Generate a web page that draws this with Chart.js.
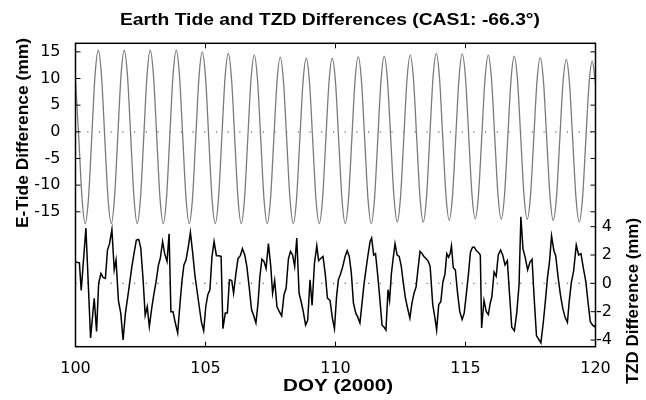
<!DOCTYPE html>
<html>
<head>
<meta charset="utf-8">
<script src="https://cdn.jsdelivr.net/npm/chart.js@4/dist/chart.umd.min.js"></script>
<style>
html,body{margin:0;padding:0;background:#fff;}
#wrap{width:646px;height:400px;}
</style>
</head>
<body>
<div id="wrap"><canvas id="chart" width="646" height="400"></canvas></div>
<script>
// E-tide difference, one value every 3 hours from DOY 100
const tideStart = 100;
const tideStep = 0.125;
const tideVal = [
  9.6,-1.0,-12.4,-17.2,-12.4,-1.0,10.5,15.3,
  10.5,-1.0,-12.4,-17.2,-12.4,-1.0,10.5,15.3,
  10.5,-1.0,-12.4,-17.2,-12.4,-1.0,10.5,15.3,
  10.5,-1.0,-12.4,-17.2,-12.4,-1.0,10.5,15.3,
  10.5,-1.0,-12.4,-17.2,-12.5,-1.1,10.3,15.0,
  10.3,-1.1,-12.5,-17.2,-12.5,-1.3,10.0,14.7,
  10.0,-1.3,-12.5,-17.2,-12.6,-1.4,9.8,14.4,
  9.8,-1.4,-12.6,-17.2,-12.6,-1.6,9.4,14.0,
  9.4,-1.6,-12.6,-17.2,-12.7,-1.7,9.3,13.8,
  9.3,-1.7,-12.7,-17.2,-12.7,-1.7,9.3,13.8,
  9.3,-1.7,-12.7,-17.2,-12.6,-1.6,9.5,14.1,
  9.5,-1.6,-12.6,-17.2,-12.6,-1.5,9.6,14.2,
  9.6,-1.4,-12.3,-16.9,-12.3,-1.3,9.8,14.4,
  9.8,-1.3,-12.3,-16.9,-12.3,-1.1,10.1,14.7,
  10.1,-1.0,-12.0,-16.6,-12.0,-1.0,10.0,14.6,
  10.1,-0.9,-11.8,-16.3,-11.8,-1.0,9.9,14.4,
  9.9,-1.0,-11.9,-16.4,-11.9,-1.1,9.7,14.2,
  9.7,-1.1,-11.9,-16.4,-12.0,-1.3,9.5,13.9,
  9.4,-1.4,-12.1,-16.6,-12.2,-1.5,9.2,13.6,
  9.1,-1.7,-12.4,-16.9,-12.5,-1.8,8.9,13.3,
  9.0
];

// TZD difference
const tzdDoy = [
  100.00,100.15,100.22,100.40,100.58,100.72,100.81,100.89,100.98,
  101.06,101.15,101.23,101.31,101.40,101.49,101.56,101.65,101.74,101.83,101.92,
  102.01,102.08,102.17,102.25,102.34,102.43,102.51,102.60,102.68,102.76,102.84,102.94,
  103.02,103.11,103.19,103.26,103.35,103.43,103.52,103.60,103.67,103.75,103.84,103.93,
  104.02,104.10,104.17,104.25,104.34,104.42,104.51,104.60,104.67,104.76,104.84,104.93,
  105.01,105.09,105.17,105.25,105.33,105.42,105.51,105.60,105.67,105.76,105.84,105.92,
  106.01,106.08,106.17,106.25,106.34,106.42,106.51,106.59,106.68,106.77,106.85,106.94,
  107.02,107.09,107.17,107.25,107.33,107.42,107.51,107.58,107.66,107.75,107.84,107.93,
  108.02,108.10,108.19,108.27,108.35,108.43,108.51,108.60,108.68,108.76,108.85,108.93,
  109.02,109.10,109.19,109.28,109.35,109.43,109.52,109.61,109.69,109.79,109.88,109.96,
  110.04,110.11,110.20,110.28,110.37,110.45,110.53,110.61,110.69,110.78,110.85,110.94,
  111.02,111.10,111.17,111.25,111.33,111.39,111.47,111.54,111.63,111.71,111.79,111.87,111.94,
  112.02,112.08,112.15,112.21,112.29,112.37,112.45,112.53,112.61,112.69,112.76,112.86,112.94,
  113.02,113.10,113.17,113.25,113.33,113.40,113.48,113.57,113.64,113.74,113.83,113.89,113.97,
  114.05,114.13,114.21,114.28,114.35,114.41,114.46,114.53,114.61,114.69,114.78,114.87,114.95,
  115.03,115.11,115.19,115.27,115.34,115.42,115.49,115.57,115.62,115.71,115.80,115.88,115.95,
  116.01,116.10,116.18,116.26,116.35,116.43,116.52,116.61,116.68,116.78,116.88,116.97,
  117.06,117.13,117.21,117.30,117.39,117.48,117.56,117.64,117.73,117.82,117.90,117.99,
  118.07,118.15,118.23,118.31,118.40,118.47,118.56,118.65,118.74,118.83,118.92,118.99,
  119.07,119.16,119.26,119.35,119.44,119.54,119.63,119.71,119.80,119.89,119.96,120.00
];
const tzdVal = [
  1.5,1.45,-0.5,3.9,-3.85,-1.05,-3.4,0,0.7,
  0.42,0.35,2.35,2.8,3.8,0.95,1.65,-1.2,-2.1,-4.0,-2.1,
  -0.95,0,1.2,2.1,3.05,3.1,2.5,0.25,-2.25,-1.65,-3.05,-1.65,
  -0.7,0.25,1.3,1.75,2.95,2.1,1.55,3.5,-2.0,-2.0,-2.8,-3.5,
  -1.4,0.25,1.3,1.65,2.6,3.6,2.1,0.45,-0.45,-1.65,-2.7,-3.35,
  -1.65,-0.8,-0.45,1.9,2.95,1.95,1.95,1.9,-3.2,-2.1,-2.1,0.25,
  0.2,-0.7,0.7,1.75,1.95,2.45,2.0,1.2,-0.25,-1.85,-2.25,-2.8,
  -1.4,0.45,1.7,1.55,1.05,2.8,1.2,-0.7,0.2,-1.65,-2.0,-2.3,
  -0.8,-0.35,1.75,2.25,2.0,1.2,3.2,-0.7,-1.3,-2.0,-2.95,-2.6,
  0.25,-1.55,1.4,2.65,1.6,1.75,1.9,0.6,-1.05,-1.2,-2.45,-3.2,
  -0.95,0.25,0.7,1.2,1.9,2.3,1.9,0.7,-1.4,-2.1,-2.35,-2.8,
  -1.4,0,0.95,2.0,2.95,3.2,2.0,2.1,0.45,-1.2,-2.95,-3.1,-3.3,
  -0.45,-1.2,0.7,1.65,2.8,2.0,1.9,1.2,0,-1.05,-1.65,-2.45,-1.4,
  -0.7,-0.25,0.95,2.25,2.1,1.9,1.75,1.55,1.2,-1.5,-2.5,-3.3,-1.5,
  -1.3,0.1,0.65,2.1,1.85,2.1,2.65,1.1,0.95,-0.6,-2.0,-2.55,-2.1,
  -0.8,0.6,2.2,2.55,2.55,2.3,2.2,2.0,-3.15,-1.2,-2.0,-2.2,-1.4,
  -1.0,0.8,0.5,2.0,2.35,2.0,1.3,1.6,-0.4,-3.1,-3.35,-2.1,
  -0.1,4.7,2.45,1.8,0.95,1.5,1.7,-1.0,-3.7,-3.95,-4.2,-2.8,
  -1.3,0.35,1.5,3.35,2.3,1.95,0.45,-0.8,-1.75,-2.4,-2.75,-1.25,
  0.05,0.9,2.7,2.0,2.1,1.0,0.1,-1.3,-2.7,-2.95,-3.05,-2.95
];

// ticks
const doyTicks = [100,105,110,115,120];
const tideTicks = [-15,-10,-5,0,5,10,15];
const tzdTicks = [-4,-2,0,2,4];

const FONT = '"Liberation Sans", Arial, Helvetica, sans-serif';
const TICK_FONT = '"DejaVu Sans", "Liberation Sans", sans-serif';
const tickLen = 5;

const tidePoints = tideVal.map((v,i)=>({x:tideStart+i*tideStep, y:v}));
const tzdPoints = tzdVal.map((v,i)=>({x:tzdDoy[i], y:v}));

// bold label stretched a bit wider, like the original export
function label(ctx, text, cx, cy, len, vertical){
    ctx.save();
    ctx.translate(cx, cy);
    if(vertical) ctx.rotate(-Math.PI/2);
    const w = ctx.measureText(text).width;
    ctx.scale(len/w, 1);
    ctx.fillText(text, 0, 0);
    ctx.restore();
}

// box, inward ticks and titles
const decor = {
  id:'decor',
  afterDraw(chart){
    const {ctx, chartArea:a, scales} = chart;
    const x = scales.x, y = scales.y, y2 = scales.y2;
    ctx.save();
    ctx.strokeStyle = '#000';
    ctx.lineWidth = 1;
    ctx.beginPath();
    doyTicks.forEach(v=>{
      const px = x.getPixelForValue(v);
      ctx.moveTo(px,a.bottom); ctx.lineTo(px,a.bottom-tickLen);
      ctx.moveTo(px,a.top); ctx.lineTo(px,a.top+tickLen);
    });
    tideTicks.forEach(v=>{
      const py = y.getPixelForValue(v);
      ctx.moveTo(a.left,py); ctx.lineTo(a.left+tickLen,py);
      ctx.moveTo(a.right,py); ctx.lineTo(a.right-tickLen,py);
    });
    tzdTicks.forEach(v=>{
      const py = y2.getPixelForValue(v);
      ctx.moveTo(a.right,py); ctx.lineTo(a.right-tickLen,py);
    });
    ctx.stroke();
    ctx.lineWidth = 1.5;
    ctx.strokeRect(a.left,a.top,a.right-a.left,a.bottom-a.top);

    ctx.fillStyle = '#000';
    ctx.textAlign = 'center';
    ctx.textBaseline = 'middle';
    ctx.font = 'bold 17px ' + FONT;
    label(ctx, 'Earth Tide and TZD Differences (CAS1: -66.3°)', 330, 20, 420, false);
    ctx.font = 'bold 16px ' + FONT;
    label(ctx, 'DOY (2000)', 338, 387, 110, false);
    label(ctx, 'E-Tide Difference (mm)', 24, 133, 190, true);
    label(ctx, 'TZD Difference (mm)', 634, 301, 166, true);
    ctx.restore();
  }
};

const tickFont = {family:TICK_FONT, size:16};

new Chart(document.getElementById('chart'), {
  type:'line',
  data:{
    datasets:[
      {
        data:tidePoints, yAxisID:'y',
        borderColor:'#7a7a7a', borderWidth:1.3,
        pointRadius:0, cubicInterpolationMode:'monotone'
      },
      {
        data:tzdPoints, yAxisID:'y2',
        borderColor:'#000', borderWidth:1.5,
        pointRadius:0, tension:0
      },
      {
        data:[{x:100,y:0},{x:120,y:0}], yAxisID:'y',
        borderColor:'#666', borderWidth:1.2, borderDash:[1.2,10.5],
        pointRadius:0
      },
      {
        data:[{x:100,y:0},{x:120,y:0}], yAxisID:'y2',
        borderColor:'#666', borderWidth:1.2, borderDash:[1.2,10.5],
        pointRadius:0
      }
    ]
  },
  options:{
    responsive:false,
    animation:false,
    layout:{padding:{top:43.3, right:34, bottom:0, left:0}},
    plugins:{legend:{display:false}, tooltip:{enabled:false}, title:{display:false}},
    scales:{
      x:{
        type:'linear', position:'bottom', min:100, max:120,
        afterBuildTicks(s){ s.ticks = doyTicks.map(v=>({value:v})); },
        afterFit(s){ s.height = 53.3; },
        ticks:{font:tickFont, color:'#000', padding:5, maxRotation:0, autoSkip:false},
        grid:{display:false}, border:{display:false}
      },
      y:{
        type:'linear', position:'left', min:-40.3, max:16.6,
        afterBuildTicks(s){ s.ticks = tideTicks.map(v=>({value:v})); },
        afterFit(s){ s.width = 75.5; },
        ticks:{font:tickFont, color:'#000', padding:7, autoSkip:false},
        grid:{display:false}, border:{display:false}
      },
      y2:{
        type:'linear', position:'right', min:-4.47, max:16.94,
        afterBuildTicks(s){ s.ticks = tzdTicks.map(v=>({value:v})); },
        afterFit(s){ s.width = 16.5; },
        ticks:{font:tickFont, color:'#000', padding:2, crossAlign:'far', autoSkip:false},
        grid:{display:false}, border:{display:false}
      }
    }
  },
  plugins:[decor]
});
</script>
